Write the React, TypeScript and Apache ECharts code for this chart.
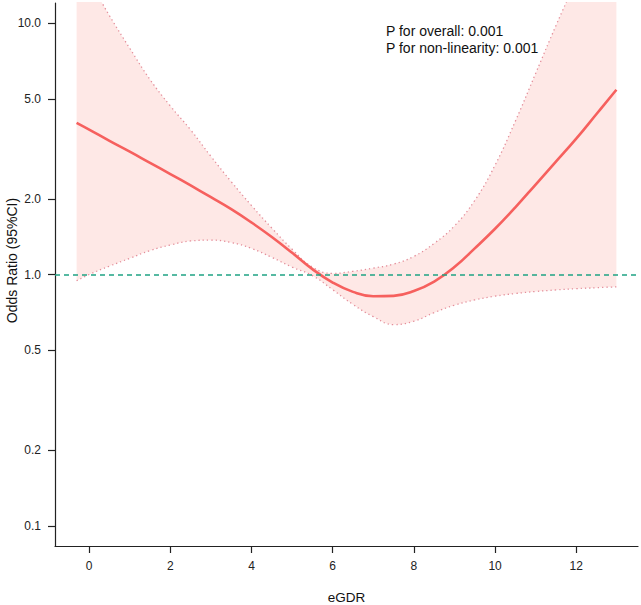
import React, { useEffect, useRef } from "react";
import * as echarts from "echarts";

// eGDR values at which the spline fit was evaluated
const xValues = [
  -0.31, 0, 0.5, 1, 1.5, 2, 2.5, 3, 3.5, 4, 4.5, 5, 5.5, 6, 6.5, 7, 7.5, 8, 8.5,
  9, 9.5, 10, 10.5, 11, 11.5, 12, 12.5, 12.99,
];

// Odds ratio estimate
const orValues = [
  4.01, 3.77, 3.4, 3.08, 2.78, 2.51, 2.26, 2.03, 1.82, 1.61, 1.41, 1.22, 1.05,
  0.929, 0.853, 0.819, 0.822, 0.859, 0.937, 1.07, 1.27, 1.52, 1.85, 2.28, 2.81,
  3.47, 4.35, 5.43,
];

// Upper 95% confidence bound
const upperValues = [
  17.8, 14.8, 10.7, 7.94, 5.96, 4.68, 3.76, 2.95, 2.34, 1.88, 1.53, 1.26, 1.07,
  1.01, 1.03, 1.06, 1.1, 1.18, 1.33, 1.56, 1.97, 2.72, 4.07, 6.31, 9.77, 14.8,
  22.4, 33.0,
];

// Lower 95% confidence bound
const lowerValues = [
  0.944, 1.0, 1.08, 1.16, 1.245, 1.31, 1.36, 1.37, 1.34, 1.27, 1.17, 1.07, 0.99,
  0.87, 0.76, 0.68, 0.632, 0.652, 0.705, 0.755, 0.792, 0.82, 0.84, 0.856, 0.868,
  0.878, 0.886, 0.893,
];

const yTickValues = [0.1, 0.2, 0.5, 1, 2, 5, 10];
const xTickValues = [0, 2, 4, 6, 8, 10, 12];
const referenceOR = 1;
const pTexts = ["P for overall: 0.001", "P for non-linearity: 0.001"];

const FONT = "'Liberation Sans', Arial, sans-serif";
const LINE_RED = "#F6605E";
const BAND_FILL = "#FEE8E6";
const CI_DOTS = "#E48E9A";
const REF_TEAL = "#1FA384";

const log10 = (v: number) => Math.log10(v);

function buildOption(): echarts.EChartsCoreOption {
  const est = xValues.map((x, i) => [x, log10(orValues[i])]);
  const up = xValues.map((x, i) => [x, log10(upperValues[i])]);
  const lo = xValues.map((x, i) => [x, log10(lowerValues[i])]);
  // Band rows are [logValue, x] so that the stacked dimension is the
  // first column; the band is lower + (upper - lower) in log space.
  const bandBase = xValues.map((x, i) => [log10(lowerValues[i]), x]);
  const bandWidth = xValues.map((x, i) => [
    log10(upperValues[i]) - log10(lowerValues[i]),
    x,
  ]);

  // log-scale range padded by 4% on each side
  const yMin = log10(0.1) - 0.08;
  const yMax = log10(10) + 0.08;
  const xMin = -0.31 - 0.04 * (12.99 + 0.31);
  const xMax = 12.99 + 0.04 * (12.99 + 0.31);

  const smooth = 0.45;

  return {
    animation: false,
    backgroundColor: "#ffffff",
    textStyle: { fontFamily: FONT },
    grid: {
      left: 55,
      right: 3,
      top: 3,
      bottom: 59,
      containLabel: false,
      outerBoundsMode: "none",
    },
    xAxis: {
      type: "value",
      min: xMin,
      max: xMax,
      name: "eGDR",
      nameLocation: "middle",
      nameGap: 44,
      nameMoveOverlap: false,
      nameTextStyle: { fontSize: 13.5, color: "#111", fontFamily: FONT },
      axisLine: { show: true, onZero: false, lineStyle: { color: "#222", width: 1.2 } },
      axisTick: {
        show: true,
        inside: false,
        length: 7,
        customValues: xTickValues,
        lineStyle: { color: "#222", width: 1.2 },
      },
      axisLabel: {
        customValues: xTickValues,
        margin: 14,
        fontSize: 12,
        color: "#222",
        fontFamily: FONT,
      },
      splitLine: { show: false },
    },
    yAxis: {
      type: "value",
      min: yMin,
      max: yMax,
      name: "Odds Ratio (95%CI)",
      nameLocation: "middle",
      nameGap: 36,
      nameMoveOverlap: false,
      nameTextStyle: {
        fontSize: 14,
        color: "#111",
        fontFamily: FONT,
        padding: [0, 0, 0, 28],
      },
      axisLine: { show: true, onZero: false, lineStyle: { color: "#222", width: 1.2 } },
      axisTick: {
        show: true,
        inside: false,
        length: 7,
        customValues: yTickValues.map(log10),
        lineStyle: { color: "#222", width: 1.2 },
      },
      axisLabel: {
        customValues: yTickValues.map(log10),
        margin: 14,
        fontSize: 12,
        color: "#222",
        fontFamily: FONT,
        formatter: (v: number) => Math.pow(10, v).toFixed(1),
      },
      splitLine: { show: false },
    },
    graphic: pTexts.map((t, i) => ({
      type: "text",
      left: 386,
      top: 24 + i * 17,
      silent: true,
      style: { text: t, fill: "#111", font: `14px ${FONT}` },
    })),
    series: [
      {
        name: "band-base",
        type: "line",
        data: bandBase,
        encode: { x: 1, y: 0 },
        stack: "ci",
        stackStrategy: "all",
        smooth,
        symbol: "none",
        lineStyle: { opacity: 0 },
        silent: true,
        clip: true,
        z: 1,
      },
      {
        name: "band",
        type: "line",
        data: bandWidth,
        encode: { x: 1, y: 0 },
        stack: "ci",
        stackStrategy: "all",
        smooth,
        symbol: "none",
        lineStyle: { opacity: 0 },
        areaStyle: { color: BAND_FILL, opacity: 1 },
        silent: true,
        clip: true,
        z: 1,
      },
      {
        name: "upper",
        type: "line",
        data: up,
        smooth,
        symbol: "none",
        lineStyle: { color: CI_DOTS, width: 1.3, type: [1.3, 3] },
        silent: true,
        clip: true,
        z: 2,
      },
      {
        name: "lower",
        type: "line",
        data: lo,
        smooth,
        symbol: "none",
        lineStyle: { color: CI_DOTS, width: 1.3, type: [1.3, 3] },
        silent: true,
        clip: true,
        z: 2,
        markLine: {
          silent: true,
          symbol: "none",
          label: { show: false },
          lineStyle: { color: REF_TEAL, width: 1.5, type: [5, 4] },
          data: [{ yAxis: log10(referenceOR) }],
        },
      },
      {
        name: "OR",
        type: "line",
        data: est,
        smooth,
        symbol: "none",
        lineStyle: { color: LINE_RED, width: 2.6 },
        silent: true,
        clip: true,
        z: 3,
      },
    ],
  };
}

export default function App() {
  const ref = useRef<HTMLDivElement>(null);
  useEffect(() => {
    if (!ref.current) return;
    const chart = echarts.init(ref.current, null, { renderer: "svg" });
    chart.setOption(buildOption());
    return () => chart.dispose();
  }, []);
  return (
    <div
      ref={ref}
      style={{ position: "fixed", left: 0, top: 0, width: 641, height: 605 }}
    />
  );
}
